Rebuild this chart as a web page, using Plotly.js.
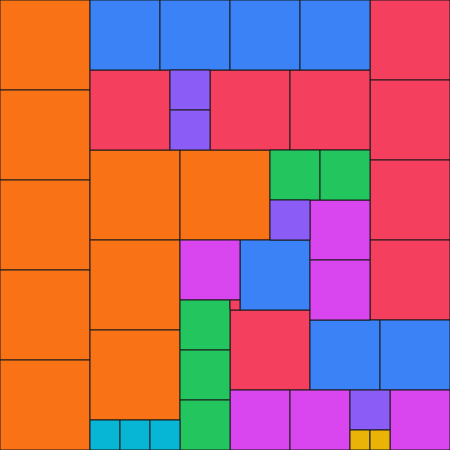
<!DOCTYPE html>
<html>
<head>
<meta charset="utf-8">
<script src="https://cdn.plot.ly/plotly-3.0.1.min.js"></script>
<style>html,body{margin:0;padding:0;background:#fff;}#chart{width:450px;height:450px;}</style>
</head>
<body>
<div id="chart"></div>
<script>
// Partridge packing: n squares of side n (n = 1..9) in a 45 x 45 square.
// Each group: side length, colour, and the top-left corners (column, row) of its squares.
const sides = [9, 8, 7, 6, 5, 4, 3, 2, 1];
const colors = ["#f97316", "#f43f5e", "#3b82f6", "#d946ef", "#22c55e", "#8b5cf6", "#06b6d4", "#eab308", "#f43f5e"];
const col9 = [0, 0, 0, 0, 0, 9, 18, 9, 9];
const row9 = [0, 9, 18, 27, 36, 15, 15, 24, 33];
const col8 = [37, 37, 37, 37, 9, 21, 29, 23];
const row8 = [0, 8, 16, 24, 7, 7, 7, 31];
const col7 = [9, 16, 23, 30, 24, 31, 38];
const row7 = [0, 0, 0, 0, 24, 32, 32];
const col6 = [31, 31, 18, 23, 29, 39];
const row6 = [20, 26, 24, 39, 39, 39];
const col5 = [27, 32, 18, 18, 18];
const row5 = [15, 15, 30, 35, 40];
const col4 = [17, 17, 27, 35];
const row4 = [7, 11, 20, 39];
const col3 = [9, 12, 15];
const row3 = [42, 42, 42];
const col2 = [35, 37];
const row2 = [43, 43];
const col1 = [23];
const row1 = [30];

const cols = [col9, col8, col7, col6, col5, col4, col3, col2, col1];
const rows = [row9, row8, row7, row6, row5, row4, row3, row2, row1];

const traces = sides.map((s, i) => ({
  type: "bar",
  x: cols[i].map(c => c + s / 2),
  y: cols[i].map(() => s),
  base: rows[i],
  width: cols[i].map(() => s),
  marker: { color: colors[i], line: { color: "#1a1a1a", width: 1 } },
  hoverinfo: "skip",
  showlegend: false
}));

Plotly.newPlot("chart", traces, {
  width: 450,
  height: 450,
  margin: { l: 0, r: 0, t: 0, b: 0, pad: 0 },
  barmode: "overlay",
  paper_bgcolor: "#ffffff",
  plot_bgcolor: "#ffffff",
  showlegend: false,
  xaxis: { range: [0, 45], visible: false, fixedrange: true },
  yaxis: { range: [45, 0], visible: false, fixedrange: true }
}, { displayModeBar: false, staticPlot: true });
</script>
</body>
</html>
